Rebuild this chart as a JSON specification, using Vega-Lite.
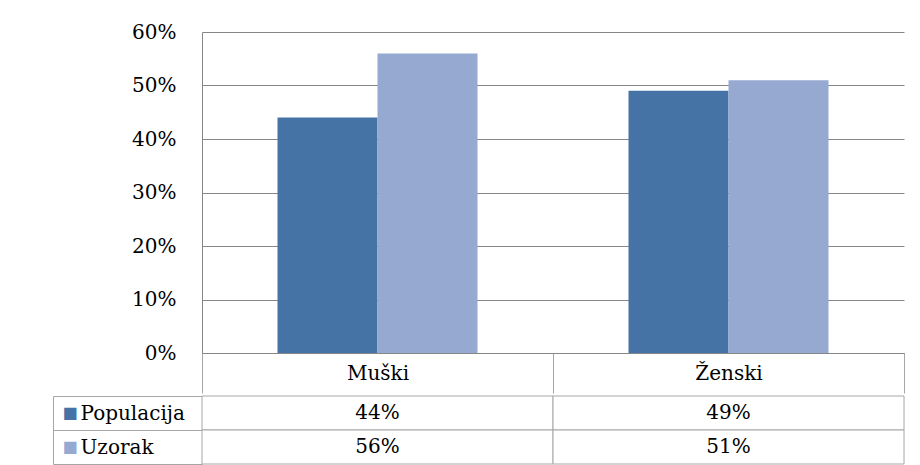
{
  "$schema": "https://vega.github.io/schema/vega-lite/v6.json",
  "background": "white",
  "padding": {"left": 52, "top": 22, "right": 10, "bottom": 0},
  "spacing": -8,
  "config": {
    "view": {"stroke": null},
    "font": "'DejaVu Serif', serif",
    "axis": {"labelFont": "'DejaVu Serif', serif"},
    "text": {"font": "'DejaVu Serif', serif"}
  },
  "datasets": {
    "d": [
      {"spol": "Muški", "serija": "Populacija", "udio": 0.44},
      {"spol": "Muški", "serija": "Uzorak", "udio": 0.56},
      {"spol": "Ženski", "serija": "Populacija", "udio": 0.49},
      {"spol": "Ženski", "serija": "Uzorak", "udio": 0.51}
    ]
  },
  "resolve": {"scale": {"x": "independent", "y": "independent"}},
  "vconcat": [
    {
      "width": 702,
      "height": 321,
      "data": {"name": "d"},
      "mark": {"type": "bar"},
      "encoding": {
        "x": {
          "field": "spol", "type": "nominal", "sort": ["Muški", "Ženski"],
          "scale": {"paddingInner": 0, "paddingOuter": 0},
          "axis": {"title": null, "orient": "bottom", "domain": true, "domainColor": "#868686",
            "ticks": true, "tickBand": "extent", "tickSize": 40, "tickColor": "#a6a6a6",
            "labelAngle": 0, "labelFontSize": 20, "labelBaseline": "middle", "labelPadding": -20,
            "labelColor": "#000", "grid": false}
        },
        "xOffset": {
          "field": "serija", "type": "nominal", "sort": ["Populacija", "Uzorak"],
          "scale": {"paddingInner": 0, "paddingOuter": 0.755}
        },
        "y": {
          "field": "udio", "type": "quantitative",
          "scale": {"domain": [0, 0.6], "nice": false},
          "axis": {"title": null, "format": ".0%", "values": [0, 0.1, 0.2, 0.3, 0.4, 0.5, 0.6],
            "ticks": false, "domainColor": "#868686", "gridColor": "#868686", "gridOpacity": 1,
            "labelFontSize": 20, "labelPadding": 26, "labelColor": "#000"}
        },
        "color": {
          "field": "serija", "type": "nominal",
          "scale": {"domain": ["Populacija", "Uzorak"], "range": ["#4673A6", "#95A9D1"]},
          "legend": null
        }
      }
    },
    {
      "width": 702,
      "height": 68,
      "data": {"name": "d"},
      "layer": [
        {
          "mark": {"type": "rect", "fill": "white", "stroke": "#a6a6a6", "strokeWidth": 1},
          "encoding": {
            "x": {"field": "spol", "type": "nominal", "sort": ["Muški", "Ženski"],
              "scale": {"type": "band", "paddingInner": 0, "paddingOuter": 0}, "axis": null},
            "y": {"field": "serija", "type": "nominal", "sort": ["Populacija", "Uzorak"],
              "scale": {"type": "band", "paddingInner": 0, "paddingOuter": 0},
              "axis": {"title": null, "orient": "left", "offset": 149, "domain": true, "domainColor": "#a6a6a6",
                "ticks": false, "grid": false, "labelExpr": "'■'", "labelFont": "DejaVu Sans", "labelFontSize": 16,
                "labelAlign": "left", "labelBaseline": "middle", "labelPadding": -9,
                "labelColor": {"condition": {"test": "datum.value === 'Populacija'", "value": "#4673A6"}, "value": "#95A9D1"}}
            }
          }
        },
        {
          "mark": {"type": "text", "fontSize": 20, "color": "#000", "font": "'DejaVu Serif', serif"},
          "encoding": {
            "x": {"field": "spol", "type": "nominal", "sort": ["Muški", "Ženski"],
              "scale": {"type": "band", "paddingInner": 0, "paddingOuter": 0}, "axis": null, "bandPosition": 0.5},
            "y": {"field": "serija", "type": "nominal", "sort": ["Populacija", "Uzorak"], "bandPosition": 0.5,
              "scale": {"type": "band", "paddingInner": 0, "paddingOuter": 0},
              "axis": {"title": null, "orient": "left", "domain": true, "domainColor": "#a6a6a6",
                "ticks": true, "tickBand": "extent", "tickSize": 149, "tickColor": "#a6a6a6", "grid": false,
                "labelFontSize": 20, "labelAlign": "left", "labelBaseline": "middle", "labelPadding": -27,
                "labelColor": "#000"}
            },
            "text": {"field": "udio", "type": "quantitative", "format": ".0%"}
          }
        }
      ],
      "resolve": {"scale": {"y": "independent"}, "axis": {"y": "independent"}}
    }
  ]
}
